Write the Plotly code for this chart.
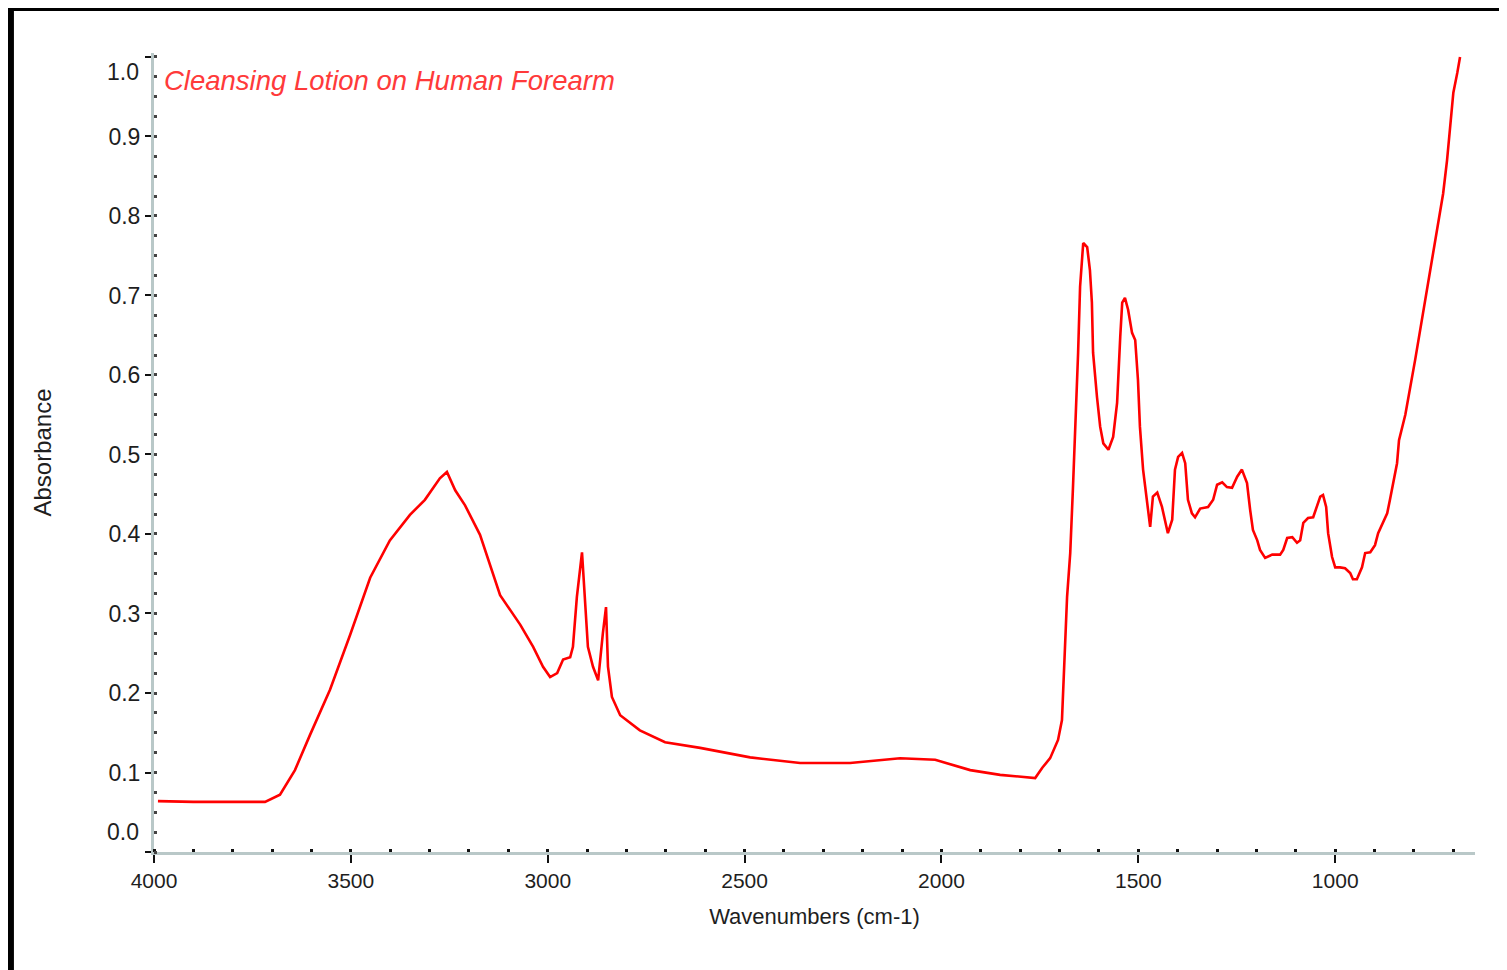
import plotly.graph_objects as go

wavenumber = [3990, 3900, 3800, 3718, 3680, 3642, 3604, 3553, 3502, 3451, 3401, 3350, 3312,
              3274, 3256, 3235, 3210, 3172, 3121, 3070, 3037, 3012, 2994, 2976, 2961, 2943,
              2936, 2926, 2913, 2905, 2898, 2885, 2872, 2860, 2852, 2847, 2837, 2816, 2766,
              2702, 2613, 2486, 2359, 2232, 2105, 2016, 1927, 1851, 1762, 1744, 1724, 1704,
              1694, 1681, 1673, 1666, 1661, 1653, 1648, 1640, 1630, 1623, 1618, 1615, 1605,
              1597, 1589, 1576, 1564, 1554, 1546, 1541, 1534, 1526, 1516, 1508, 1501, 1496,
              1488, 1478, 1470, 1463, 1452, 1440, 1432, 1425, 1414, 1407, 1399, 1389, 1381,
              1374, 1364, 1356, 1343, 1323, 1310, 1300, 1287, 1275, 1262, 1249, 1237, 1224,
              1216, 1209, 1198, 1191, 1178, 1160, 1140, 1132, 1122, 1109, 1097, 1089, 1081,
              1069, 1056, 1046, 1038, 1031, 1023, 1018, 1008, 1000, 988, 975, 962, 955, 945,
              932, 924, 911, 899, 891, 878, 868, 861, 853, 843, 838, 822, 797, 772, 746, 726,
              716, 708, 700, 690, 683]
absorbance = [0.064, 0.063, 0.063, 0.063, 0.072, 0.103, 0.147, 0.204, 0.273, 0.345, 0.392, 0.424, 0.443,
              0.470, 0.478, 0.455, 0.436, 0.399, 0.323, 0.286, 0.258, 0.233, 0.220, 0.225, 0.242, 0.245,
              0.258, 0.321, 0.377, 0.313, 0.258, 0.233, 0.216, 0.275, 0.308, 0.233, 0.195, 0.172, 0.153,
              0.138, 0.131, 0.119, 0.112, 0.112, 0.118, 0.116, 0.103, 0.097, 0.093, 0.106, 0.118, 0.141,
              0.166, 0.321, 0.376, 0.459, 0.522, 0.628, 0.711, 0.766, 0.761, 0.732, 0.691, 0.628, 0.572,
              0.535, 0.514, 0.506, 0.522, 0.565, 0.648, 0.691, 0.697, 0.682, 0.653, 0.644, 0.594, 0.535,
              0.481, 0.439, 0.409, 0.447, 0.452, 0.434, 0.418, 0.401, 0.418, 0.481, 0.497, 0.502, 0.489,
              0.443, 0.426, 0.421, 0.432, 0.434, 0.443, 0.462, 0.465, 0.459, 0.458, 0.472, 0.481, 0.464,
              0.430, 0.405, 0.392, 0.380, 0.370, 0.374, 0.374, 0.380, 0.395, 0.396, 0.389, 0.392, 0.414,
              0.420, 0.421, 0.434, 0.447, 0.449, 0.434, 0.401, 0.371, 0.358, 0.358, 0.357, 0.351, 0.343, 0.343,
              0.358, 0.376, 0.377, 0.386, 0.401, 0.414, 0.426, 0.443, 0.464, 0.489, 0.518, 0.550, 0.619,
              0.694, 0.770, 0.828, 0.870, 0.912, 0.955, 0.980, 1.000]

x_tickvals = [4000, 3500, 3000, 2500, 2000, 1500, 1000]
x_ticktext = ["4000", "3500", "3000", "2500", "2000", "1500", "1000"]
y_tickvals = [0.0, 0.1, 0.2, 0.3, 0.4, 0.5, 0.6, 0.7, 0.8, 0.9, 1.0]
y_ticktext = ["", "0.1", "0.2", "0.3", "0.4", "0.5", "0.6", "0.7", "0.8", "0.9", ""]
end_labels = [(0.0, "0.0", 20), (1.0, "1.0", -15)]

title_text = "Cleansing Lotion on Human Forearm"
x_title = "Wavenumbers (cm-1)"
y_title = "Absorbance"

FONT = "Liberation Sans, Arial, sans-serif"
AXIS_COLOR = "#b9c8c8"
TEXT_COLOR = "#1e1e1e"

fig = go.Figure()
fig.add_trace(go.Scatter(x=wavenumber, y=absorbance, mode="lines",
                         line=dict(color="#ff0000", width=2.6), hoverinfo="x+y"))

fig.update_layout(
    width=1507, height=970,
    margin=dict(l=146, r=40, t=45, b=126),
    paper_bgcolor="white", plot_bgcolor="white",
    showlegend=False,
    font=dict(family=FONT, color=TEXT_COLOR),
)

fig.update_xaxes(
    range=[4000, 645], showgrid=False, zeroline=False,
    showline=True, linecolor=AXIS_COLOR, linewidth=3,
    tickvals=x_tickvals, ticktext=x_ticktext,
    ticks="outside", ticklen=8, tickwidth=2, tickcolor="#111",
    tickfont=dict(size=21, color=TEXT_COLOR),
    minor=dict(dtick=100, tick0=0, ticks="inside", ticklen=3, tickwidth=3, tickcolor="#111"),
    title=dict(text=x_title, font=dict(size=22, color=TEXT_COLOR), standoff=18),
)
fig.update_yaxes(
    range=[0, 1.005], showgrid=False, zeroline=False,
    showline=True, linecolor=AXIS_COLOR, linewidth=3,
    tickvals=y_tickvals, ticktext=y_ticktext,
    ticks="outside", ticklen=6, tickwidth=2, tickcolor="#111",
    tickfont=dict(size=23, color=TEXT_COLOR),
    minor=dict(dtick=0.025, tick0=0, ticks="inside", ticklen=3, tickwidth=3, tickcolor="#444"),
    title=dict(text=y_title, font=dict(size=24, color=TEXT_COLOR), standoff=51),
)

for val, txt, shift in end_labels:
    fig.add_annotation(x=0, xref="paper", xanchor="right", xshift=-13,
                       y=val, yref="y", yanchor="middle", yshift=shift,
                       text=txt, showarrow=False,
                       font=dict(size=23, color=TEXT_COLOR, family=FONT))

fig.add_annotation(x=0.006, xref="paper", xanchor="left",
                   y=0.966, yref="paper", yanchor="middle",
                   text="<i>" + title_text + "</i>", showarrow=False,
                   font=dict(size=27.5, color="#ff3a3a", family=FONT))

# Black frame (top and left edges)
fig.add_shape(type="line", xref="paper", yref="paper",
              x0=-0.1105, x1=1.03, y0=1.0563, y1=1.0563,
              line=dict(color="black", width=6))
fig.add_shape(type="line", xref="paper", yref="paper",
              x0=-0.1083, x1=-0.1083, y0=1.06, y1=-0.17,
              line=dict(color="black", width=6))

fig.write_html("out.html")
